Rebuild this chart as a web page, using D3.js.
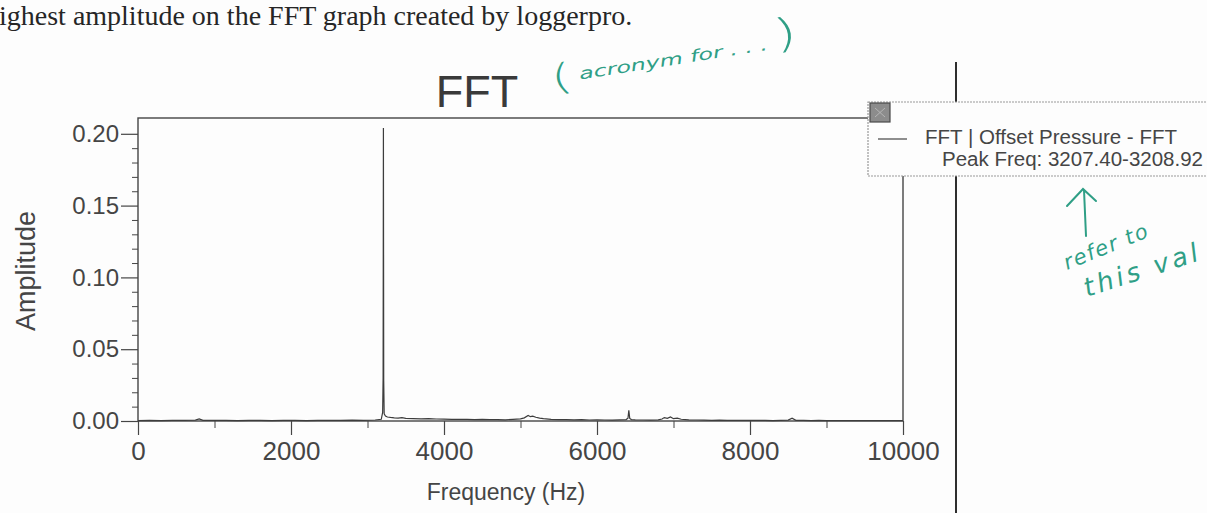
<!DOCTYPE html>
<html>
<head>
<meta charset="utf-8">
<script src="https://cdn.jsdelivr.net/npm/d3@7"></script>
<style>
  html, body { margin: 0; padding: 0; background: #fdfdfd; overflow: hidden; }
  svg { display: block; }
</style>
</head>
<body>
<svg id="chart" width="1207" height="513"></svg>
<script>
// ---- data ----
const freqHz = [0,150,300,450,600,750,800,850,1000,1150,1300,1450,1600,1750,1900,2050,2200,2350,2500,2650,2800,2950,3100,3180,3198,3204,3208,3212,3218,3235,3260,3300,3350,3400,3450,3500,3600,3700,3800,3900,4000,4100,4200,4300,4400,4500,4600,4700,4800,4900,5000,5050,5100,5130,5160,5200,5250,5300,5400,5500,5600,5700,5800,5900,6000,6100,6200,6300,6380,6405,6416,6428,6450,6500,6600,6700,6800,6850,6880,6920,6960,7000,7050,7100,7200,7300,7400,7500,7600,7700,7800,7900,8000,8100,8200,8300,8400,8500,8550,8600,8700,8800,8900,9000,9200,9400,9600,9800,10000];
const amplitude = [0.0002,0.0004,0.0003,0.0005,0.0004,0.0006,0.0015,0.0005,0.0004,0.0005,0.0003,0.0004,0.0005,0.0003,0.0004,0.0005,0.0003,0.0004,0.0005,0.0004,0.0006,0.0005,0.0007,0.0012,0.006,0.03,0.204,0.028,0.005,0.0035,0.0028,0.0025,0.0022,0.002,0.0024,0.0018,0.0016,0.0015,0.0017,0.0014,0.0013,0.0012,0.0011,0.0012,0.0010,0.0011,0.0009,0.0010,0.0008,0.0012,0.0015,0.0022,0.0038,0.0030,0.0034,0.0026,0.0020,0.0016,0.0012,0.0010,0.0009,0.0008,0.0009,0.0007,0.0008,0.0007,0.0006,0.0008,0.0010,0.0020,0.0075,0.0018,0.0010,0.0008,0.0007,0.0006,0.0008,0.0014,0.0024,0.0018,0.0028,0.0016,0.0020,0.0012,0.0008,0.0007,0.0006,0.0005,0.0006,0.0005,0.0004,0.0005,0.0004,0.0005,0.0004,0.0003,0.0004,0.0006,0.0020,0.0005,0.0004,0.0003,0.0004,0.0003,0.0003,0.0002,0.0003,0.0002,0.0002];
const xTickValues = [0,2000,4000,6000,8000,10000];
const xMinorTicks = [1000,3000,5000,7000,9000];
const yTickValues = [0,0.05,0.10,0.15,0.20];
const yMinorTicks = [0.01,0.02,0.03,0.04,0.06,0.07,0.08,0.09,0.11,0.12,0.13,0.14,0.16,0.17,0.18,0.19];
const chartTitle = "FFT";
const xLabel = "Frequency (Hz)";
const yLabel = "Amplitude";
const legendLine1 = "FFT | Offset Pressure - FFT";
const legendLine2 = "Peak Freq: 3207.40-3208.92";
const pageText = "ighest amplitude on the FFT graph created by loggerpro.";

(function () {
// ---- layout ----
const svg = d3.select("#chart");
const pLeft = 138, pRight = 903, pTop = 118, pBottom = 421;
const x = d3.scaleLinear().domain([0, 10000]).range([pLeft, pRight]);
const y = d3.scaleLinear().domain([0, 0.211]).range([pBottom, pTop]);
const ink = "#454545";
const teal = "#2f9f86";
const sans = "'Liberation Sans', Arial, sans-serif";

// page text line
svg.append("text").attr("x", -1).attr("y", 25)
  .attr("font-family", "'Liberation Serif', 'Times New Roman', serif")
  .attr("font-size", 28).attr("fill", "#262626").text(pageText);

// title
svg.append("text").attr("x", 477).attr("y", 107).attr("text-anchor", "middle")
  .attr("font-family", sans).attr("font-size", 45).attr("fill", "#3a3a3a").text(chartTitle);

// frame
svg.append("rect").attr("x", pLeft).attr("y", pTop)
  .attr("width", pRight - pLeft).attr("height", pBottom - pTop)
  .attr("fill", "none").attr("stroke", ink).attr("stroke-width", 1.4);

// y axis
const yAxis = d3.axisLeft(y).tickValues(yTickValues).tickFormat(d3.format(".2f"))
  .tickSize(17).tickPadding(2);
const gy = svg.append("g").attr("transform", `translate(${pLeft},0)`).call(yAxis);
gy.select(".domain").remove();
gy.selectAll("line").attr("stroke", ink).attr("stroke-width", 1.2);
gy.selectAll("text").attr("font-family", sans).attr("font-size", 24).attr("fill", ink);
const yMinor = d3.axisLeft(y).tickValues(yMinorTicks).tickSize(6).tickFormat("");
const gym = svg.append("g").attr("transform", `translate(${pLeft},0)`).call(yMinor);
gym.select(".domain").remove();
gym.selectAll("line").attr("stroke", ink).attr("stroke-width", 1);

// x axis
const xAxis = d3.axisBottom(x).tickValues(xTickValues).tickFormat(d3.format("d"))
  .tickSize(14).tickPadding(7);
const gx = svg.append("g").attr("transform", `translate(0,${pBottom})`).call(xAxis);
gx.select(".domain").remove();
gx.selectAll("line").attr("stroke", ink).attr("stroke-width", 1.2);
gx.selectAll("text").attr("font-family", sans).attr("font-size", 26).attr("fill", ink);
const xMinor = d3.axisBottom(x).tickValues(xMinorTicks).tickSize(7).tickFormat("");
const gxm = svg.append("g").attr("transform", `translate(0,${pBottom})`).call(xMinor);
gxm.select(".domain").remove();
gxm.selectAll("line").attr("stroke", ink).attr("stroke-width", 1);

// axis labels
svg.append("text").attr("x", 506).attr("y", 500).attr("text-anchor", "middle")
  .attr("font-family", sans).attr("font-size", 23).attr("fill", ink).text(xLabel);
svg.append("text").attr("transform", "translate(35,271) rotate(-90)").attr("text-anchor", "middle")
  .attr("font-family", sans).attr("font-size", 27).attr("fill", ink).text(yLabel);

// data line
const line = d3.line().x((d, i) => x(freqHz[i])).y(d => y(d));
svg.append("path").datum(amplitude).attr("d", line)
  .attr("fill", "none").attr("stroke", "#3d3d3d").attr("stroke-width", 1.2);

// page vertical rule
svg.append("line").attr("x1", 956).attr("x2", 956).attr("y1", 62).attr("y2", 513)
  .attr("stroke", "#2e2e2e").attr("stroke-width", 2);

// legend box
const lg = svg.append("g");
lg.append("rect").attr("x", 868).attr("y", 102).attr("width", 360).attr("height", 74)
  .attr("fill", "#fdfdfd").attr("stroke", "#9a9a9a").attr("stroke-width", 1.2)
  .attr("stroke-dasharray", "2,1");
lg.append("rect").attr("x", 870).attr("y", 103).attr("width", 20).attr("height", 19)
  .attr("fill", "#8c8c8c").attr("stroke", "#4a4a4a").attr("stroke-width", 1.2);
lg.append("path").attr("d", "M875,108 L885,117 M885,108 L875,117")
  .attr("stroke", "#b5b5b5").attr("stroke-width", 1);
lg.append("line").attr("x1", 878).attr("x2", 907).attr("y1", 139).attr("y2", 139)
  .attr("stroke", ink).attr("stroke-width", 1.2);
lg.append("text").attr("x", 925).attr("y", 144).attr("font-family", sans)
  .attr("font-size", 19.5).attr("fill", ink)
  .attr("textLength", 252).attr("lengthAdjust", "spacingAndGlyphs").text(legendLine1);
lg.append("text").attr("x", 942).attr("y", 166).attr("font-family", sans)
  .attr("font-size", 19.5).attr("fill", ink)
  .attr("textLength", 261).attr("lengthAdjust", "spacingAndGlyphs").text(legendLine2);

// handwritten annotations
const hand = "'DejaVu Sans', sans-serif";
const note1 = svg.append("text").attr("transform", "translate(553,91) rotate(-9)")
  .attr("font-family", hand).attr("font-style", "italic").attr("fill", teal)
  .attr("textLength", 250).attr("lengthAdjust", "spacingAndGlyphs");
note1.append("tspan").attr("font-size", 36).attr("font-style", "normal").attr("font-weight", 200).text("(");
note1.append("tspan").attr("font-size", 16).attr("dy", -7).text(" acronym  for  . . . ");
note1.append("tspan").attr("font-size", 40).attr("font-style", "normal").attr("font-weight", 200).attr("dy", 0).text(")");

svg.append("path").attr("d", "M1086,236 L1084,190 M1067,206 L1083,189 L1096,201")
  .attr("fill", "none").attr("stroke", teal).attr("stroke-width", 2).attr("stroke-linecap", "round");
svg.append("text").attr("transform", "translate(1067,270) rotate(-22)")
  .attr("font-family", hand).attr("font-style", "italic").attr("font-size", 21)
  .attr("letter-spacing", 1.5).attr("fill", teal).text("refer to");
svg.append("text").attr("transform", "translate(1087,297) rotate(-18)")
  .attr("font-family", hand).attr("font-style", "italic").attr("font-size", 26)
  .attr("letter-spacing", 3.5).attr("fill", teal).text("this val");
})();
</script>
</body>
</html>
